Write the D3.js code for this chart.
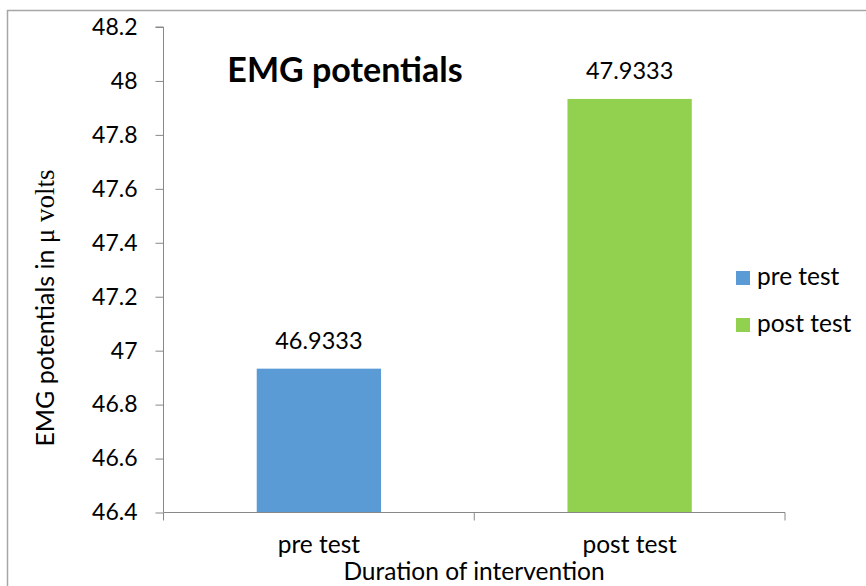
<!DOCTYPE html>
<html><head><meta charset="utf-8">
<script src="https://cdn.jsdelivr.net/npm/d3@7"></script>
<style>body{margin:0;background:#fff}svg{display:block}text{font-family:Lato,"Noto Sans",sans-serif;fill:#000}</style>
</head><body><svg id="c" width="866" height="586"></svg>
<script>
const categories = ["pre test", "post test"];
const values = [46.9333, 47.9333];
const valueLabels = ["46.9333", "47.9333"];
const colors = ["#5B9BD5", "#92D050"];
const yTicks = [46.4, 46.6, 46.8, 47, 47.2, 47.4, 47.6, 47.8, 48, 48.2];
const title = "EMG potentials";
const xTitle = "Duration of intervention";

const svg = d3.select("#c");
svg.append("rect").attr("x", 7.5).attr("y", 10.5).attr("width", 900).attr("height", 700)
  .attr("fill", "none").attr("stroke", "#a6a6a6").attr("stroke-width", 1.5);

const L = 163.5, R = 785, T = 27, B = 512.5;
const x = d3.scaleBand().domain(categories).range([L, R]).paddingInner(0).paddingOuter(0);
const y = d3.scaleLinear().domain([46.4, 48.2]).range([B, T]);

const yAxis = svg.append("g").attr("transform", `translate(${L},0)`)
  .call(d3.axisLeft(y).tickValues(yTicks).tickSize(8).tickPadding(18).tickFormat(d => String(+d.toFixed(1))));
yAxis.selectAll("path,line").attr("stroke", "#888");
yAxis.select(".domain").attr("d", `M-8,${T}H0V${B}`);
yAxis.selectAll("text").style("font-size", "23px").style("font-family", "Lato,sans-serif");

svg.selectAll("rect.bar").data(values).join("rect").attr("class", "bar")
  .attr("x", (d, i) => x(categories[i]) + x.bandwidth() * 0.3)
  .attr("width", x.bandwidth() * 0.4)
  .attr("y", d => y(d)).attr("height", d => B - y(d))
  .attr("fill", (d, i) => colors[i]);

const xAxis = svg.append("g").attr("transform", `translate(0,${B})`);
xAxis.append("line").attr("x1", L).attr("x2", R).attr("stroke", "#888");
const bounds = [L, x(categories[1]), R];
xAxis.selectAll("line.t").data(bounds).join("line").attr("class", "t")
  .attr("x1", d => d).attr("x2", d => d).attr("y1", 0).attr("y2", 8).attr("stroke", "#888");
xAxis.selectAll("text").data(categories).join("text")
  .attr("x", d => x(d) + x.bandwidth() / 2).attr("y", 40)
  .attr("text-anchor", "middle").style("font-size", "24.5px").text(d => d);

svg.selectAll("text.vl").data(values).join("text").attr("class", "vl")
  .attr("x", (d, i) => x(categories[i]) + x.bandwidth() / 2)
  .attr("y", d => y(d) - 20).attr("text-anchor", "middle")
  .style("font-size", "23.5px").text((d, i) => valueLabels[i]);

svg.append("text").attr("x", 345).attr("y", 82).attr("text-anchor", "middle")
  .style("font-size", "34px").style("font-weight", "bold").text(title);

svg.append("text").attr("x", 474).attr("y", 580).attr("text-anchor", "middle")
  .style("font-size", "24.5px").text(xTitle);

const yl = svg.append("text").attr("transform", "translate(54,308) rotate(-90)")
  .attr("text-anchor", "middle").style("font-size", "25px");
yl.append("tspan").text("EMG potentials  in ");
yl.append("tspan").style("font-family", "'Liberation Serif',serif").style("font-size", "27px").text("μ volts");

const leg = svg.append("g");
categories.forEach((c, i) => {
  const g = leg.append("g").attr("transform", `translate(736,${271 + i * 47})`);
  g.append("rect").attr("width", 14).attr("height", 14).attr("fill", colors[i]);
  g.append("text").attr("x", 21).attr("y", 14).style("font-size", "24.5px").text(c);
});
</script></body></html>
